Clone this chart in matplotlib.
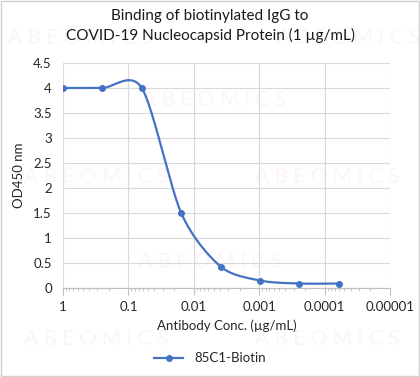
import numpy as np
import matplotlib.pyplot as plt
from matplotlib.patches import Rectangle
from matplotlib.ticker import FixedLocator, LogLocator, NullFormatter

# ----------------------------
# Data (4-fold dilution series)
# ----------------------------
conc = [1, 0.25, 0.0625, 0.015625, 0.00390625, 0.0009765625, 0.000244140625, 0.00006103515625]
od450 = [4.0, 4.0, 4.0, 1.5, 0.43, 0.15, 0.09, 0.09]
series_name = "85C1-Biotin"
x_ticks = [1, 0.1, 0.01, 0.001, 0.0001, 0.00001]
x_tick_labels = ["1", "0.1", "0.01", "0.001", "0.0001", "0.00001"]
y_ticks = [0, 0.5, 1, 1.5, 2, 2.5, 3, 3.5, 4, 4.5]

BLUE = "#4472C4"
GRID = "#d9d9d9"
plt.rcParams['font.family'] = ['Lato', 'DejaVu Sans']


def excel_smooth(xs, ys, xscale, yscale, k=0.14, n=40):
    # Bezier smoothing like Excel's "smoothed line", done in screen-ish units
    px = np.log10(xs) * xscale
    py = np.asarray(ys) * yscale
    pts = np.column_stack([px, py])
    out = []
    for i in range(len(pts) - 1):
        p0 = pts[i - 1] if i > 0 else pts[i]
        p1 = pts[i]
        p2 = pts[i + 1]
        p3 = pts[i + 2] if i + 2 < len(pts) else pts[i + 1]
        c1 = p1 + (p2 - p0) * k
        c2 = p2 - (p3 - p1) * k
        t = np.linspace(0, 1, n)[:, None]
        seg = ((1 - t) ** 3) * p1 + 3 * ((1 - t) ** 2) * t * c1 + 3 * (1 - t) * t ** 2 * c2 + t ** 3 * p2
        out.append(seg if i == 0 else seg[1:])
    curve = np.vstack(out)
    return 10 ** (curve[:, 0] / xscale), curve[:, 1] / yscale


fig = plt.figure(figsize=(4.2, 3.77), dpi=100)
fig.patches.append(Rectangle((0.002, 0.002), 0.996, 0.995, transform=fig.transFigure,
                             fill=False, edgecolor="#d0d0d0", linewidth=1))

# faint watermarks, kept behind everything
wm = "A B E O M I C S"
for (wx, wy) in [(0.19, 0.90), (0.83, 0.90), (0.51, 0.735), (0.23, 0.53), (0.78, 0.53),
                 (0.50, 0.305), (0.23, 0.10), (0.78, 0.10)]:
    fig.text(wx, wy, wm, fontsize=15, color="#fcf4f6", ha="center", va="center", zorder=-5)

ax = fig.add_axes([0.15, 0.236, 0.779, 0.597], zorder=2)
ax.patch.set_alpha(0)

sx, sy = excel_smooth(conc, od450, 64.7, 50)
ax.plot(sx, sy, color=BLUE, linewidth=1.6, zorder=3)
ax.plot(conc, od450, linestyle="none", marker="o", markersize=4, color=BLUE, zorder=4)
ax.plot([], [], color=BLUE, linewidth=1.6, marker="o", markersize=4, label=series_name)

ax.set_xscale("log")
ax.set_xlim(1, 0.00001)
ax.set_ylim(0, 4.5)
ax.xaxis.set_major_locator(FixedLocator(x_ticks))
ax.set_xticklabels(x_tick_labels)
ax.xaxis.set_minor_locator(LogLocator(base=10, subs=np.arange(2, 10)))
ax.xaxis.set_minor_formatter(NullFormatter())
ax.set_yticks(y_ticks)
ax.set_yticklabels([f"{v:g}" for v in y_ticks])

ax.grid(True, which="major", color=GRID, linewidth=0.8)
ax.set_axisbelow(True)
for s in ["top", "right", "left"]:
    ax.spines[s].set_visible(False)
ax.spines["bottom"].set_color("#bfbfbf")
ax.tick_params(axis="x", which="major", length=5, color="#bfbfbf", labelsize=9.5, pad=4, labelcolor="#262626")
ax.tick_params(axis="x", which="minor", length=2.5, color="#bfbfbf")
ax.tick_params(axis="y", length=0, labelsize=9.5, pad=8, labelcolor="#262626")

ax.set_xlabel("Antibody Conc. (µg/mL)", fontsize=9.5, color="#262626", labelpad=5)
ax.set_ylabel("OD450 nm", fontsize=9.5, color="#262626", labelpad=6)
fig.suptitle("Binding of biotinylated IgG to\nCOVID-19 Nucleocapsid Protein (1 µg/mL)",
             fontsize=11, color="#1a1a1a", y=0.975, linespacing=1.4)

fig.legend(loc="center", bbox_to_anchor=(0.5, 0.05), frameon=False, fontsize=9.5,
           handlelength=2.2, labelcolor="#262626")

fig.savefig("out.png", dpi=100)
